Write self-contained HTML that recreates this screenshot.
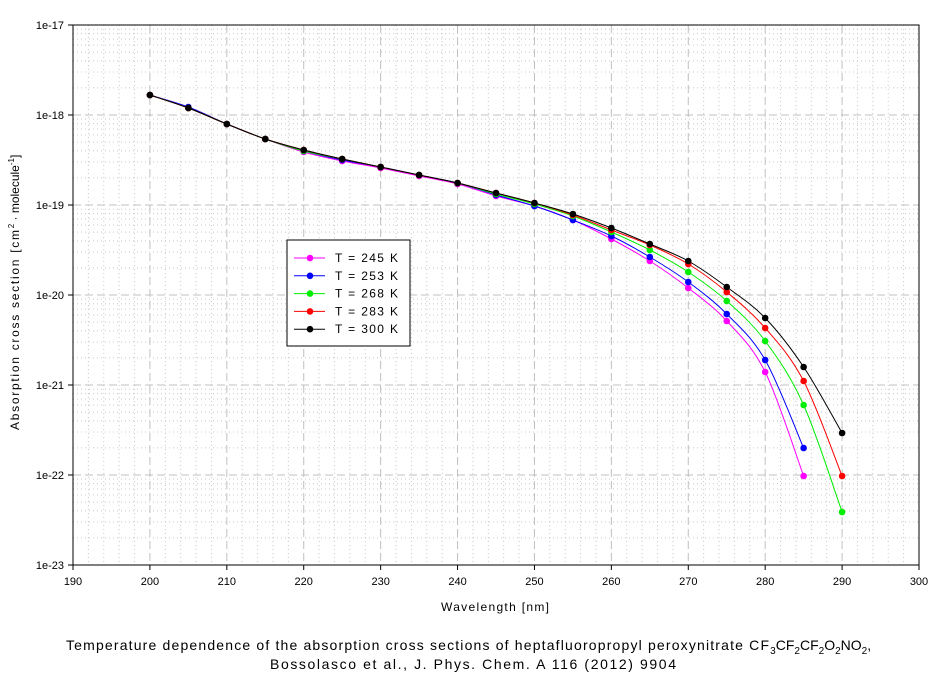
<!DOCTYPE html>
<html><head><meta charset="utf-8"><style>
body{margin:0;background:#fff;width:944px;height:679px;overflow:hidden;font-family:"Liberation Sans",Arial,sans-serif}
svg text{font-family:"Liberation Sans",Arial,sans-serif}
</style></head><body>
<svg id="s" width="944" height="679" xmlns="http://www.w3.org/2000/svg"></svg>
<script>
const s=document.getElementById('s');
const L=73,R=919,T=25,B=565;
const X=v=>L+(v-190)*(R-L)/110;
const D=(B-T)/6;
let h='';
for(let v=192;v<300;v+=2){if(v%10)h+=`<line x1="${X(v)}" y1="${T}" x2="${X(v)}" y2="${B}" stroke="#c8c8c8" stroke-dasharray="1,3"/>`;}
for(let d=0;d<6;d++){for(let k=2;k<10;k++){const y=B-(d+Math.log10(k))*D;h+=`<line x1="${L}" y1="${y}" x2="${R}" y2="${y}" stroke="#c8c8c8" stroke-dasharray="1,3"/>`;}}
for(let v=200;v<300;v+=10)h+=`<line x1="${X(v)}" y1="${T}" x2="${X(v)}" y2="${B}" stroke="#c0c0c0" stroke-dasharray="8,4"/>`;
for(let d=1;d<6;d++){const y=B-d*D;h+=`<line x1="${L}" y1="${y}" x2="${R}" y2="${y}" stroke="#c0c0c0" stroke-dasharray="8,4"/>`;}
h+=`<rect x="${L}" y="${T}" width="${R-L}" height="${B-T}" fill="none" stroke="#000"/>`;
for(let v=190;v<=300;v+=10){h+=`<line x1="${X(v)}" y1="${B}" x2="${X(v)}" y2="${B+5}" stroke="#000"/><text x="${X(v)}" y="${B+20}" font-size="11" text-anchor="middle">${v}</text>`;}
for(let d=0;d<=6;d++){const y=B-d*D;h+=`<line x1="${L-5}" y1="${y}" x2="${L}" y2="${y}" stroke="#000"/><text x="${L-9}" y="${y+4}" font-size="11" text-anchor="end">1e-${23-d}</text>`;}
h+=`<text x="441" y="611" font-size="12" textLength="108" lengthAdjust="spacing">Wavelength [nm]</text>`;
h+=`<text transform="translate(19,430) rotate(-90)" font-size="12"><tspan textLength="200" lengthAdjust="spacing">Absorption cross section [cm</tspan><tspan dy="-5" font-size="8">2</tspan><tspan dy="5"> · molecule</tspan><tspan dy="-5" font-size="8">-1</tspan><tspan dy="5">]</tspan></text>`;
h+=`<text x="66" y="650" font-size="14"><tspan textLength="703" lengthAdjust="spacing">Temperature dependence of the absorption cross sections of heptafluoropropyl peroxynitrate CF</tspan><tspan dy="4" font-size="10">3</tspan><tspan dy="-4">CF</tspan><tspan dy="4" font-size="10">2</tspan><tspan dy="-4">CF</tspan><tspan dy="4" font-size="10">2</tspan><tspan dy="-4">O</tspan><tspan dy="4" font-size="10">2</tspan><tspan dy="-4">NO</tspan><tspan dy="4" font-size="10">2</tspan><tspan dy="-4">,</tspan></text>`;
h+=`<text x="270" y="669" font-size="14" textLength="406" lengthAdjust="spacing">Bossolasco et al., J. Phys. Chem. A 116 (2012) 9904</text>`;
const ser=[
['#ff00ff',[95,108,124,139,152,161,168,176,184,196,206,220,239,261,288,321,372,476]],
['#0000ff',[95,107,124,139,151,160,167,175,183,195,206,220,236,257,282,314,360,448]],
['#00ee00',[95,108,124,139,151,159,167,175,183,194,204,216,232,250,272,301,341,405,512]],
['#ff0000',[95,108,124,139,150,159,167,175,183,193,203,215,230,245,264,292,328,381,476]],
['#000000',[95,108,124,139,150,159,167,175,183,193,203,214,228,244,261,287,318,367,433]]];
function smooth(p){let d=`M${p[0][0]},${p[0][1]}`;for(let i=0;i<p.length-1;i++){const p0=p[i-1]||p[i],p1=p[i],p2=p[i+1],p3=p[i+2]||p2;d+=` C${p1[0]+(p2[0]-p0[0])/6},${p1[1]+(p2[1]-p0[1])/6} ${p2[0]-(p3[0]-p1[0])/6},${p2[1]-(p3[1]-p1[1])/6} ${p2[0]},${p2[1]}`;}return d;}
for(const [c,ys] of ser){const p=ys.map((y,i)=>[X(200+5*i),y]);h+=`<path d="${smooth(p)}" fill="none" stroke="${c}" stroke-width="1"/>`;for(const q of p)h+=`<circle cx="${q[0]}" cy="${q[1]}" r="3.3" fill="${c}"/>`;}
h+=`<rect x="287" y="240" width="123" height="106" fill="#fff" stroke="#000"/>`;
const names=['245','253','268','283','300'];
ser.forEach(([c],i)=>{const y=258+i*17.8;h+=`<line x1="294" y1="${y}" x2="325" y2="${y}" stroke="${c}"/><circle cx="310" cy="${y}" r="3.3" fill="${c}"/><text x="335" y="${y+4}" font-size="12" textLength="63" lengthAdjust="spacing">T = ${names[i]} K</text>`;});
s.innerHTML=h;
</script>
</body></html>
